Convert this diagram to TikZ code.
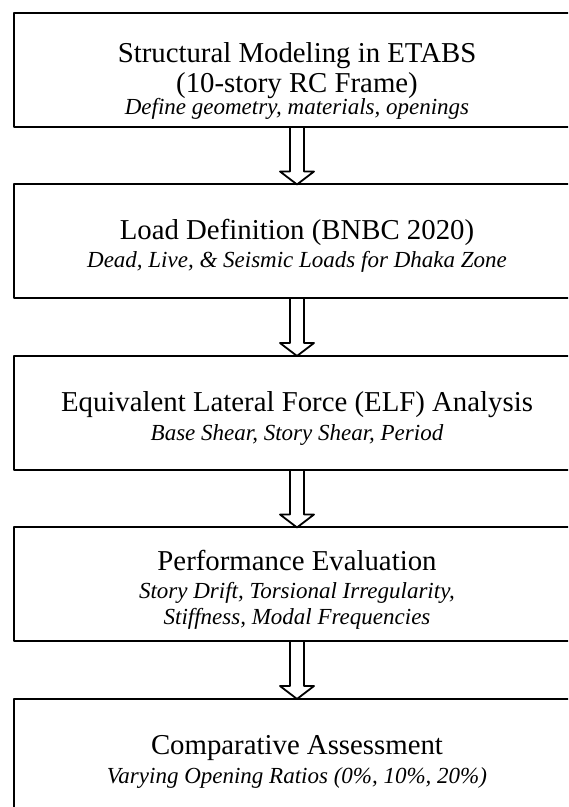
\documentclass[tikz,border=0pt]{standalone}
\usepackage{fontspec}
\setmainfont{Liberation Serif}
\usetikzlibrary{positioning}
\usetikzlibrary{calc}

\newcommand{\headfont}{\fontsize{14.4}{15}\selectfont}
\newcommand{\notefont}{\fontsize{11.5}{13}\selectfont\itshape}

\begin{document}
\begin{tikzpicture}[line cap=round,line join=round,x=0.5pt,y=0.5pt,
  stage/.style={draw,line width=1pt,outer sep=0pt,minimum width=283pt,minimum height=57pt,inner sep=0pt},
  stagetext/.style={inner sep=0pt,align=center,font=\headfont},
  hollow/.style={draw,line width=0.9pt}]
\clip (0,0) rectangle (568,807);
\useasboundingbox (0,0) rectangle (568,807);
\node[stage] (s1) at (297,737) {};
\node[stage,below=28.75pt of s1] (s2) {};
\node[stage,below=28.75pt of s2] (s3) {};
\node[stage,below=28.75pt of s3] (s4) {};
\node[stage,below=28.75pt of s4] (s5) {};
\node[stagetext] (t1) at ($(s1.center)+(0,-10.7)$) {Structural Modeling in ETABS\\ (10-story RC Frame)\\[-4pt] {\notefont Define geometry, materials, openings}};
\node[stagetext] (t2) at ($(s2.center)+(0,-4.3)$) {Load Definition (BNBC 2020)\\[-0.75pt] {\notefont Dead, Live, \& Seismic Loads for Dhaka Zone}};
\node[stagetext] (t3) at ($(s3.center)+(0,-5.7)$) {Equivalent Lateral Force (ELF) Analysis\\[-0.75pt] {\notefont Base Shear, Story Shear, Period}};
\node[stagetext] (t4) at ($(s4.center)+(0,-5.4)$) {Performance Evaluation\\[-0.75pt] {\notefont Story Drift, Torsional Irregularity,}\\[-2pt] {\notefont Stiffness, Modal Frequencies}};
\node[stagetext] (t5) at ($(s5.center)+(0,-5.9)$) {Comparative Assessment\\[-0.75pt] {\notefont Varying Opening Ratios (0\%, 10\%, 20\%)}};
% hollow arrows between the stages
\foreach \a/\b in {s1/s2,s2/s3,s3/s4,s4/s5}
\draw[hollow] ($(\a.south)+(-7,0)$) -- ($(\b.north)+(-7,13)$) -- ++(-10,0) -- (\b.north) -- ++(17,13) -- ++(-10,0) -- ($(\a.south)+(7,0)$);
\end{tikzpicture}
\end{document}
